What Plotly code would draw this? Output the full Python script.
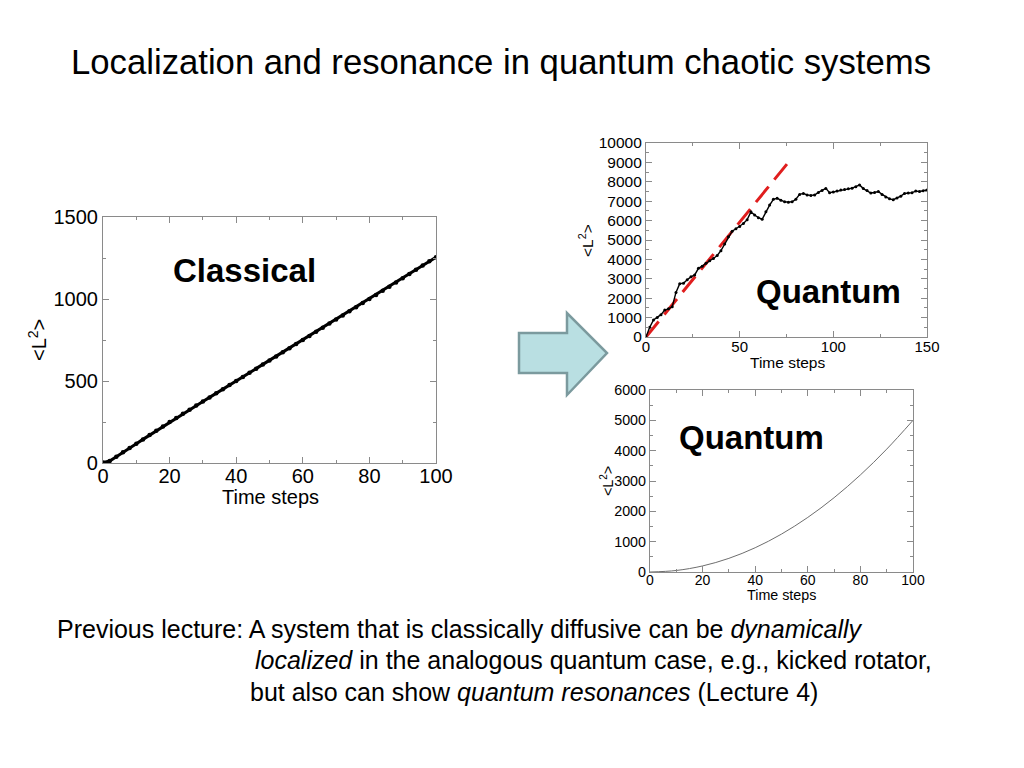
import plotly.graph_objects as go

# ---------------- data ----------------
classical_t = list(range(0, 101, 2))
classical_v = [3, 12, 38, 66, 92, 118, 144, 170, 196, 222, 250, 275, 300, 325, 350, 375,
               400, 425, 450, 475, 500, 525, 550, 575, 600, 625, 650, 675, 700, 725,
               750, 775, 800, 825, 850, 875, 900, 925, 950, 975, 1000, 1025, 1050,
               1075, 1100, 1126, 1152, 1178, 1204, 1230, 1255]

quantum_t = list(range(0, 151, 2))
quantum_v = [0, 500, 880, 1000, 1150, 1390, 1450, 1560, 2300, 2750, 2770, 2950, 3100,
             3200, 3540, 3650, 3800, 3930, 4050, 4200, 4450, 4800, 5170, 5450, 5580,
             5700, 5850, 6050, 6450, 6290, 6150, 6070, 6450, 6800, 7100, 7150, 7050,
             6970, 6950, 6970, 7100, 7350, 7400, 7320, 7300, 7320, 7450, 7550, 7660,
             7440, 7480, 7520, 7580, 7600, 7640, 7670, 7750, 7840, 7650, 7550, 7420,
             7450, 7500, 7350, 7220, 7120, 7080, 7160, 7260, 7400, 7420, 7440, 7520,
             7500, 7540, 7580]

fit_t = [0, 76]
fit_v = [0, 9000]

resonance_t = [0, 10, 20, 30, 40, 50, 60, 70, 80, 90, 100]
resonance_v = [0, 50, 200, 450, 800, 1250, 1800, 2450, 3200, 4050, 5000]

title_text = "Localization and resonance in quantum chaotic systems"
x_title = "Time steps"
y_title = "&lt;L<sup>2</sup>&gt;"

W, H = 1024, 768


def px(x):
    return x / W


def py(y):
    return 1 - y / H


FONT = "Liberation Sans, Arial, Helvetica, sans-serif"
AX_COL = "#8a8a8a"

fig = go.Figure()

fig.add_trace(go.Scatter(x=classical_t, y=classical_v, mode="lines+markers",
                         line=dict(color="black", width=3),
                         marker=dict(color="black", size=4.5),
                         xaxis="x", yaxis="y", hoverinfo="skip"))
fig.add_trace(go.Scatter(x=fit_t, y=fit_v, mode="lines",
                         line=dict(color="#e01e1e", width=3, dash="20px,9px"),
                         xaxis="x2", yaxis="y2", hoverinfo="skip"))
fig.add_trace(go.Scatter(x=quantum_t, y=quantum_v, mode="lines+markers",
                         line=dict(color="black", width=1.4),
                         marker=dict(color="black", size=3),
                         xaxis="x2", yaxis="y2", hoverinfo="skip"))
fig.add_trace(go.Scatter(x=resonance_t, y=resonance_v, mode="lines",
                         line=dict(color="#6e6e6e", width=1, shape="spline"),
                         xaxis="x3", yaxis="y3", hoverinfo="skip"))


def axis(domain, rng, dtick, minor_dtick, fsize, anchor, standoff=0):
    return dict(domain=domain, range=rng, dtick=dtick, tick0=0, tickformat="d",
                showline=True, mirror="ticks", linecolor=AX_COL, linewidth=1.2,
                ticks="inside", ticklen=6, tickcolor=AX_COL, tickwidth=1,
                minor=dict(dtick=minor_dtick, ticks="inside", ticklen=3, tickcolor=AX_COL),
                showgrid=False, zeroline=False, anchor=anchor, automargin=False,
                ticklabelstandoff=standoff,
                tickfont=dict(family=FONT, size=fsize, color="black"))


fig.update_layout(
    width=W, height=H,
    margin=dict(l=0, r=0, t=0, b=0),
    paper_bgcolor="white", plot_bgcolor="white",
    showlegend=False,
    xaxis=axis([px(103), px(436)], [0, 100], 20, 10, 20, "y", -5),
    yaxis=axis([py(463), py(217)], [0, 1500], 500, 250, 20, "x", 0),
    xaxis2=axis([px(646), px(927)], [0, 150], 50, 25, 15, "y2", -4),
    yaxis2=axis([py(337), py(143)], [0, 10000], 1000, 500, 15.5, "x2", 0),
    xaxis3=axis([px(650), px(913)], [0, 100], 20, 10, 14, "y3", -5),
    yaxis3=axis([py(572), py(390)], [0, 6000], 1000, 500, 14.3, "x3", 0),
)

# arrow
arrow_pts = [(519, 333), (567, 333), (567, 313), (607, 353), (567, 395), (567, 373), (519, 373)]
path = "M " + " L ".join(f"{px(x):.5f},{py(y):.5f}" for x, y in arrow_pts) + " Z"
fig.add_shape(type="path", path=path, xref="paper", yref="paper",
              fillcolor="#b9dfe2", line=dict(color="#7b9a9e", width=2.5))

ann = []


def add_text(txt, x, y, size, xanchor="center", angle=0, family=FONT):
    ann.append(dict(text=txt, x=px(x), y=py(y), xref="paper", yref="paper",
                    showarrow=False, font=dict(family=family, size=size, color="black"),
                    xanchor=xanchor, yanchor="middle", textangle=angle))


add_text(title_text, 501, 62, 34.7)
for txt, x, y in [("Classical", 244, 270), ("Quantum", 828, 292), ("Quantum", 751, 437)]:
    add_text(f"<b>{txt}</b>", x, y, 33)

# axis titles
add_text(x_title, 270, 497, 20)
add_text(x_title, 787, 362, 15.5)
add_text(x_title, 781, 595, 14.3)
add_text(y_title, 38, 340, 20, angle=-90)
add_text(y_title, 586, 241, 15.5, angle=-90)
add_text(y_title, 607, 481, 14.3, angle=-90)

lines = [
    ("Previous lecture: A system that is classically diffusive can be <i>dynamically</i>", 55, 629),
    ("<i>localized</i> in the analogous quantum case, e.g., kicked rotator,", 253, 660),
    ("but also can show <i>quantum resonances</i> (Lecture 4)", 248, 692),
]
for txt, x, y in lines:
    add_text(txt, x, y, 25, xanchor="left")

fig.update_layout(annotations=ann)

fig.write_html("out.html", config={"displayModeBar": False},
               post_script="document.body.style.margin='0';document.body.style.overflow='hidden';")
